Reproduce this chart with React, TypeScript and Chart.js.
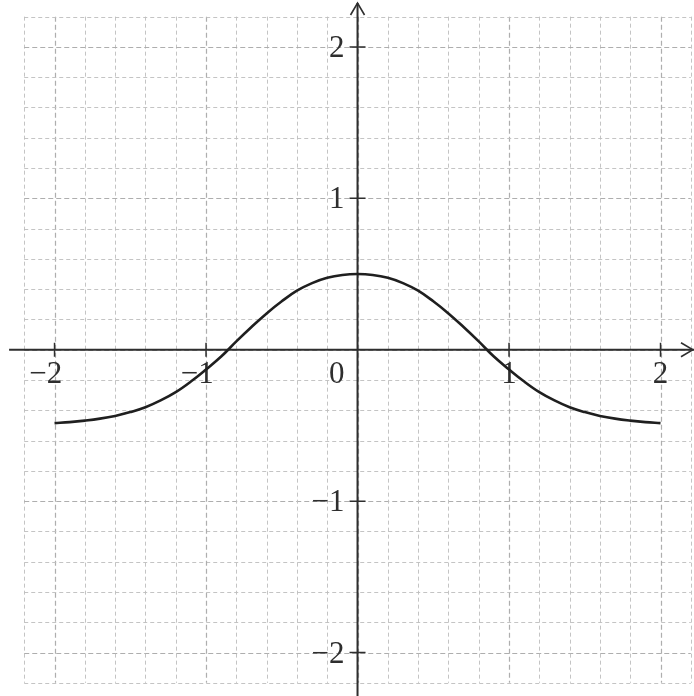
import React, { useEffect, useRef } from "react";
import { Chart, registerables } from "chart.js";

Chart.register(...registerables);

// ---- data ----
const xValues = [
  -2.0, -1.9, -1.8, -1.7, -1.6, -1.5, -1.4, -1.3, -1.2, -1.1, -1.0,
  -0.9, -0.8, -0.7, -0.6, -0.5, -0.4, -0.3, -0.2, -0.1, 0.0,
  0.1, 0.2, 0.3, 0.4, 0.5, 0.6, 0.7, 0.8, 0.9, 1.0,
  1.1, 1.2, 1.3, 1.4, 1.5, 1.6, 1.7, 1.8, 1.9, 2.0,
];
const yValues = [
  -0.485, -0.478, -0.468, -0.455, -0.437, -0.412, -0.38, -0.335, -0.28, -0.21, -0.13,
  -0.045, 0.055, 0.15, 0.24, 0.32, 0.39, 0.44, 0.475, 0.494, 0.5,
  0.494, 0.475, 0.44, 0.39, 0.32, 0.24, 0.15, 0.055, -0.045, -0.13,
  -0.21, -0.28, -0.335, -0.38, -0.412, -0.437, -0.455, -0.468, -0.478, -0.485,
];
const xTickValues = [-2, -1, 1, 2];
const xTickLabels = ["\u22122", "\u22121", "1", "2"];
const yTickValues = [-2, -1, 1, 2];
const yTickLabels = ["\u22122", "\u22121", "1", "2"];
const originLabel = "0";

// ---- axis / grid configuration ----
const X_MIN = -2.36;
const X_MAX = 2.221;
const Y_MIN = -2.287;
const Y_MAX = 2.31;
const GRID_LIMIT = 2.2;
const GRID_STEP = 0.2;
const X_AXIS_START = -2.3;
const Y_AXIS_TOP = 2.29;

const FONT = "31px 'Liberation Serif', 'Times New Roman', Times, serif";
const AXIS_COLOR = "#2e2e2e";

const axesPlugin = {
  id: "mathAxes",
  beforeDatasetsDraw(chart: any) {
    const ctx: CanvasRenderingContext2D = chart.ctx;
    const xs = chart.scales.x;
    const ys = chart.scales.y;
    const px = (v: number) => xs.getPixelForValue(v);
    const py = (v: number) => ys.getPixelForValue(v);
    const area = chart.chartArea;

    ctx.save();
    // grid
    const n = Math.round(GRID_LIMIT / GRID_STEP);
    const gTop = py(GRID_LIMIT);
    const gBot = py(-GRID_LIMIT);
    const gLeft = px(-GRID_LIMIT);
    const gRight = px(GRID_LIMIT);
    for (let i = -n; i <= n; i++) {
      const v = i * GRID_STEP;
      const major = i % 5 === 0;
      ctx.strokeStyle = major ? "rgba(170,170,170,0.95)" : "rgba(190,190,190,0.9)";
      ctx.lineWidth = major ? 1.2 : 1;
      ctx.setLineDash(major ? [5, 3] : [4, 3]);
      const x = Math.round(px(v)) + 0.5;
      ctx.beginPath();
      ctx.moveTo(x, gTop);
      ctx.lineTo(x, gBot);
      ctx.stroke();
      const y = Math.round(py(v)) + 0.5;
      ctx.beginPath();
      ctx.moveTo(gLeft, y);
      ctx.lineTo(gRight, y);
      ctx.stroke();
    }
    ctx.setLineDash([]);

    // axes
    const x0 = px(0);
    const y0 = py(0);
    ctx.strokeStyle = AXIS_COLOR;
    ctx.lineWidth = 2;
    ctx.beginPath();
    ctx.moveTo(px(X_AXIS_START), y0);
    ctx.lineTo(area.right, y0);
    ctx.moveTo(x0, py(Y_AXIS_TOP));
    ctx.lineTo(x0, area.bottom);
    ctx.stroke();

    // arrowheads (open)
    ctx.lineWidth = 1.6;
    const aTop = py(Y_AXIS_TOP);
    ctx.beginPath();
    ctx.moveTo(x0 - 7, aTop + 12);
    ctx.lineTo(x0, aTop);
    ctx.lineTo(x0 + 7, aTop + 12);
    ctx.stroke();
    const aRight = area.right - 1;
    ctx.beginPath();
    ctx.moveTo(aRight - 12, y0 - 7);
    ctx.lineTo(aRight, y0);
    ctx.lineTo(aRight - 12, y0 + 7);
    ctx.stroke();

    // tick marks
    ctx.lineWidth = 1.5;
    ctx.beginPath();
    xTickValues.forEach((v) => {
      const x = px(v);
      ctx.moveTo(x, y0 - 7);
      ctx.lineTo(x, y0 + 7);
    });
    yTickValues.forEach((v) => {
      const y = py(v);
      ctx.moveTo(x0 - 8, y);
      ctx.lineTo(x0 + 8, y);
    });
    ctx.stroke();

    // labels
    ctx.font = FONT;
    ctx.fillStyle = AXIS_COLOR;
    ctx.textBaseline = "alphabetic";
    xTickLabels.forEach((label, i) => {
      const digit = label.replace("\u2212", "");
      const w = ctx.measureText(digit).width;
      ctx.textAlign = "right";
      ctx.fillText(label, px(xTickValues[i]) + w / 2, y0 + 33);
    });
    yTickLabels.forEach((label, i) => {
      ctx.textAlign = "right";
      ctx.fillText(label, x0 - 13, py(yTickValues[i]) + 10);
    });
    ctx.textAlign = "right";
    ctx.fillText(originLabel, x0 - 13, y0 + 33);
    ctx.restore();
  },
};

export default function App() {
  const canvasRef = useRef<HTMLCanvasElement | null>(null);

  useEffect(() => {
    const canvas = canvasRef.current;
    if (!canvas) return;
    const points = xValues.map((x, i) => ({ x, y: yValues[i] }));
    const chart = new Chart(canvas, {
      type: "line",
      data: {
        datasets: [
          {
            data: points,
            borderColor: "#1f1f1f",
            borderWidth: 2.6,
            pointRadius: 0,
            fill: false,
            tension: 0.4,
          },
        ],
      },
      options: {
        animation: false,
        responsive: false,
        devicePixelRatio: 1,
        layout: { padding: 0 },
        plugins: {
          legend: { display: false },
          tooltip: { enabled: false },
        },
        scales: {
          x: { type: "linear", min: X_MIN, max: X_MAX, display: false },
          y: { type: "linear", min: Y_MIN, max: Y_MAX, display: false },
        },
      },
      plugins: [axesPlugin],
    } as any);
    return () => chart.destroy();
  }, []);

  return (
    <div
      style={{
        position: "absolute",
        left: 0,
        top: 0,
        width: 694,
        height: 696,
        background: "#ffffff",
      }}
    >
      <canvas ref={canvasRef} width={694} height={696} style={{ width: 694, height: 696, display: "block" }} />
    </div>
  );
}
